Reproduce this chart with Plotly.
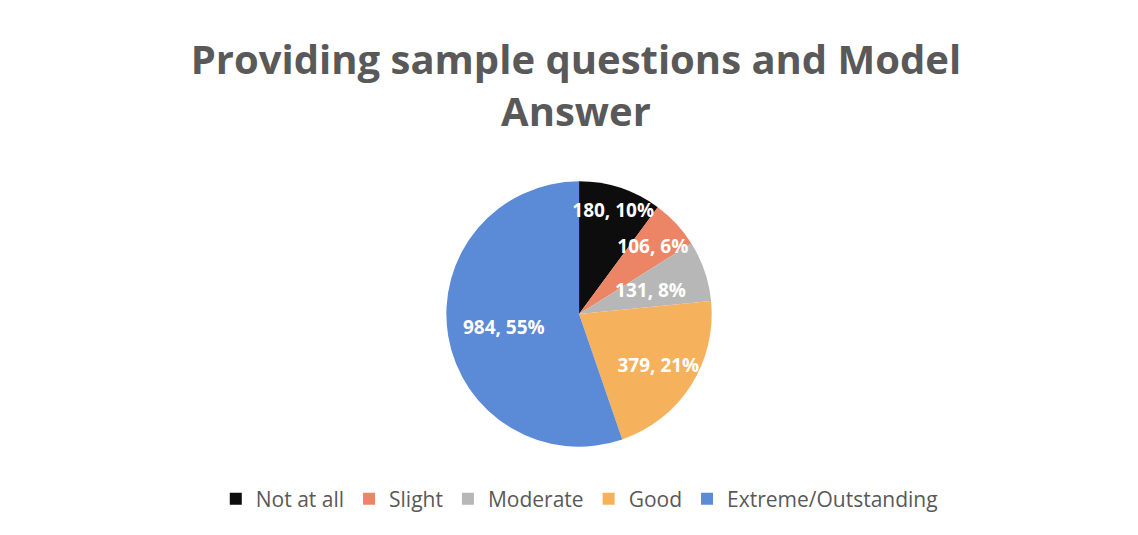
import plotly.graph_objects as go

categories = ["Not at all", "Slight", "Moderate", "Good", "Extreme/Outstanding"]
values = [180, 106, 131, 379, 984]
percents = [10, 6, 8, 21, 55]
colors = ["#0d0d0d", "#ec8466", "#b7b7b7", "#f6b15c", "#5b8ad6"]

text_labels = [f"{v}, {p}%" for v, p in zip(values, percents)]
# radial scale of the invisible label-carrying pie per label (mimics Excel best-fit placement)
label_scale = {"Not at all": 1.08, "Slight": 0.9, "Moderate": 0.7,
               "Good": 1.15, "Extreme/Outstanding": 1.15}


def domain_for(scale):
    half = 0.248 * scale
    return dict(x=[0.2938, 0.7098], y=[0.428 - half, 0.428 + half])


fig = go.Figure()
# coloured slices
fig.add_trace(go.Pie(
    labels=categories,
    values=values,
    textinfo="none",
    sort=False,
    direction="clockwise",
    rotation=0,
    marker=dict(colors=colors, line=dict(width=0)),
    domain=domain_for(1.0),
    hoverinfo="label+value",
))

# transparent copies of the same pie carrying the data labels above all slices
for cat in categories:
    fig.add_trace(go.Pie(
        labels=categories,
        values=values,
        text=[t if c == cat else "" for c, t in zip(categories, text_labels)],
        textinfo="text",
        sort=False,
        direction="clockwise",
        rotation=0,
        marker=dict(colors=["rgba(0,0,0,0)"] * len(values), line=dict(width=0)),
        textposition="inside",
        insidetextorientation="horizontal",
        textfont=dict(family="Open Sans", size=19, color="white", weight="bold"),
        domain=domain_for(label_scale[cat]),
        hoverinfo="skip",
        showlegend=False,
    ))

fig.update_layout(
    width=1138, height=535,
    paper_bgcolor="white",
    plot_bgcolor="white",
    margin=dict(l=0, r=0, t=0, b=0),
    title=dict(
        text="Providing sample questions and Model<br>Answer",
        x=0.4991, xanchor="center", y=0.877, yanchor="top",
        font=dict(family="Open Sans", size=40, color="#595959", weight="bold"),
    ),
    uniformtext=dict(minsize=19, mode="show"),
    legend=dict(
        orientation="h", x=0.502, xanchor="center", y=0.082, yanchor="middle",
        font=dict(family="Open Sans", size=21, color="#595959"),
        traceorder="normal",
    ),
)

fig.write_html("out.html")
